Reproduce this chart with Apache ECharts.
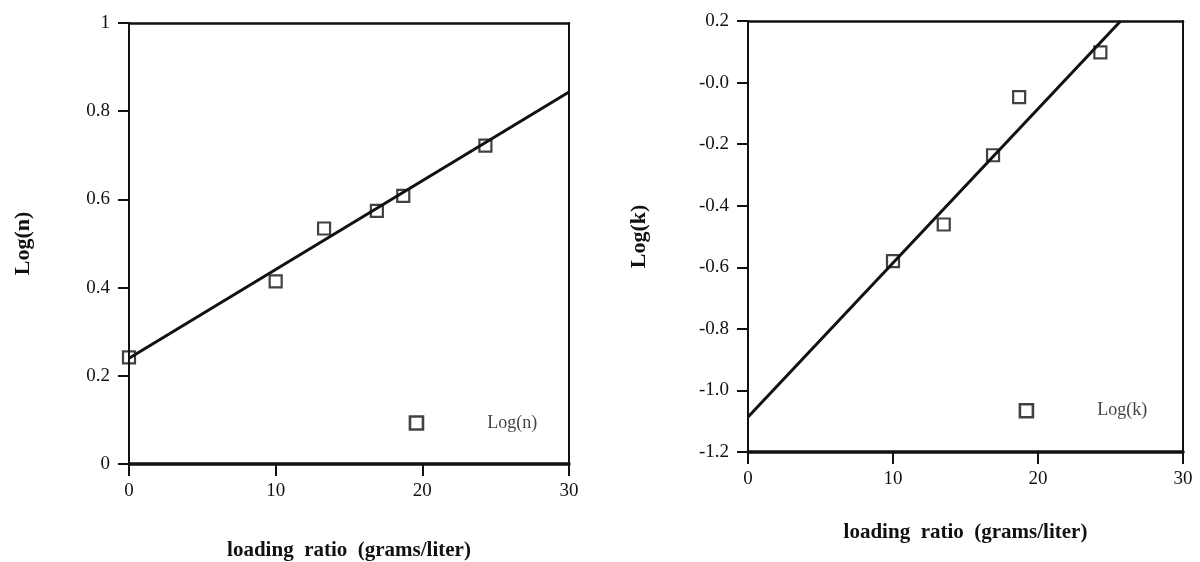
<!DOCTYPE html>
<html>
<head>
<meta charset="utf-8">
<script src="https://cdn.jsdelivr.net/npm/echarts@6/dist/echarts.min.js"></script>
<style>
  html, body { margin: 0; padding: 0; background: #fff; }
  #main { width: 1200px; height: 562px; }
</style>
</head>
<body>
<div id="main"></div>
<script>
// 左图: Log(n) 对 loading ratio
const xTicks = [0, 10, 20, 30];
const loadN = [0, 10, 13.3, 16.9, 18.7, 24.3];
const logN = [0.242, 0.414, 0.534, 0.574, 0.608, 0.722];
const fitN = [[0, 0.24], [30, 0.8435]];
const legendN = [19.6, 0.093];
const yTicksN = ['0', '0.2', '0.4', '0.6', '0.8', '1'];

// 右图: Log(k) 对 loading ratio
const loadK = [10.0, 13.5, 16.9, 18.7, 24.3];
const logK = [-0.58, -0.461, -0.236, -0.047, 0.098];
const fitK = [[0, -1.086], [25.7, 0.2]];
const legendK = [19.2, -1.066];
const yTicksK = ['-1.2', '-1.0', '-0.8', '-0.6', '-0.4', '-0.2', '-0.0', '0.2'];

const FONT = '"Liberation Serif", "DejaVu Serif", serif';
const INK = '#111';

function pts(xs, ys) {
  return xs.map((x, i) => [x, ys[i]]);
}

function xAxes(gridIndex) {
  return [
    {
      type: 'value', gridIndex: gridIndex, position: 'bottom',
      min: xTicks[0], max: xTicks[xTicks.length - 1], interval: 10,
      axisLine: { show: true, onZero: false, lineStyle: { color: INK, width: 3.5 } },
      axisTick: { show: true, inside: false, length: 12, lineStyle: { color: INK, width: 2 } },
      axisLabel: {
        margin: 18, color: INK, fontFamily: FONT, fontSize: 19,
        formatter: v => String(v)
      },
      splitLine: { show: false },
      name: 'loading  ratio  (grams/liter)',
      nameLocation: 'middle',
      nameGap: gridIndex === 0 ? 76 : 70,
      nameTextStyle: { color: INK, fontFamily: FONT, fontSize: 21, fontWeight: 'bold' }
    },
    {
      type: 'value', gridIndex: gridIndex, position: 'top',
      min: 0, max: 30,
      axisLine: { show: true, onZero: false, lineStyle: { color: INK, width: 2.5 } },
      axisTick: { show: false }, axisLabel: { show: false }, splitLine: { show: false }
    }
  ];
}

function yAxes(gridIndex, min, max, labels, name, gap) {
  return [
    {
      type: 'value', gridIndex: gridIndex, position: 'left',
      min: min, max: max, interval: 0.2,
      axisLine: { show: true, onZero: false, lineStyle: { color: INK, width: 2 } },
      axisTick: { show: true, inside: false, length: 11, lineStyle: { color: INK, width: 2 } },
      axisLabel: {
        margin: 19, color: INK, fontFamily: FONT, fontSize: 19,
        formatter: v => labels[Math.round((v - min) / 0.2)]
      },
      splitLine: { show: false },
      name: name, nameLocation: 'middle', nameGap: gap, nameRotate: 90,
      nameTextStyle: { color: INK, fontFamily: FONT, fontSize: 22, fontWeight: 'bold' }
    },
    {
      type: 'value', gridIndex: gridIndex, position: 'right',
      min: min, max: max,
      axisLine: { show: true, onZero: false, lineStyle: { color: INK, width: 2 } },
      axisTick: { show: false }, axisLabel: { show: false }, splitLine: { show: false }
    }
  ];
}

function markers(xi, yi, data) {
  return {
    type: 'scatter', xAxisIndex: xi, yAxisIndex: yi,
    symbol: 'rect', symbolSize: 12,
    itemStyle: { color: 'rgba(0,0,0,0)', borderColor: INK, borderWidth: 2.2 },
    data: data, z: 5
  };
}

function fitLine(xi, yi, data) {
  return {
    type: 'line', xAxisIndex: xi, yAxisIndex: yi,
    data: data, showSymbol: false, symbol: 'none',
    lineStyle: { color: INK, width: 3 }, clip: true, z: 4
  };
}

function legendMark(xi, yi, pos, text) {
  return {
    type: 'scatter', xAxisIndex: xi, yAxisIndex: yi,
    symbol: 'rect', symbolSize: 13,
    itemStyle: { color: 'rgba(0,0,0,0)', borderColor: INK, borderWidth: 2.6 },
    label: {
      show: true, position: 'right', distance: 63,
      formatter: text, color: INK, fontFamily: FONT, fontSize: 18
    },
    data: [pos]
  };
}

const chart = echarts.init(document.getElementById('main'));
chart.setOption({
  backgroundColor: '#fff',
  animation: false,
  grid: [
    { left: 129, right: 631, top: 23, bottom: 98, outerBoundsMode: 'none', containLabel: false },
    { left: 748, right: 17, top: 21, bottom: 110, outerBoundsMode: 'none', containLabel: false }
  ],
  xAxis: [].concat(xAxes(0), xAxes(1)),
  yAxis: [].concat(
    yAxes(0, 0, 1, yTicksN, 'Log(n)', 95),
    yAxes(1, -1.2, 0.2, yTicksK, 'Log(k)', 98)
  ),
  series: [
    fitLine(0, 0, fitN),
    markers(0, 0, pts(loadN, logN)),
    legendMark(0, 0, legendN, 'Log(n)'),
    fitLine(2, 2, fitK),
    markers(2, 2, pts(loadK, logK)),
    legendMark(2, 2, legendK, 'Log(k)')
  ]
});
</script>
</body>
</html>
